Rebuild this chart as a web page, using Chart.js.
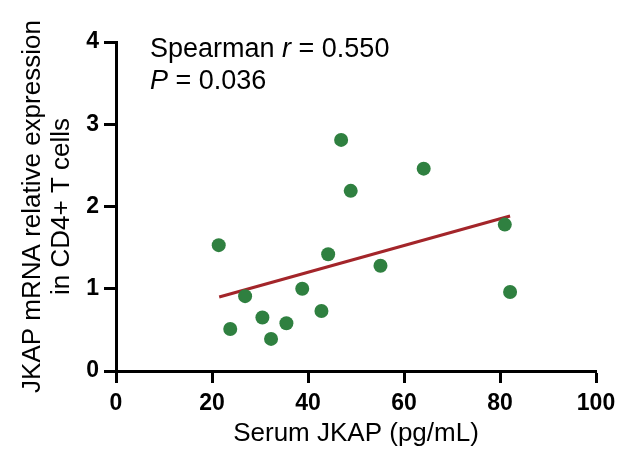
<!DOCTYPE html>
<html>
<head>
<meta charset="utf-8">
<script src="https://cdn.jsdelivr.net/npm/chart.js@4"></script>
<style>
  html, body { margin:0; padding:0; background:#fff; }
  #wrap { width:635px; height:457px; position:relative; }
</style>
</head>
<body>
<div id="wrap"><canvas id="grafica" width="635" height="457"></canvas></div>
<script>
// datos
const serumJKAP = [21.4, 23.8, 26.9, 30.5, 32.3, 35.5, 38.8, 42.8, 44.2, 46.9, 48.9, 55.1, 64.1, 81.0, 82.1];
const mrnaCD4   = [1.53, 0.51, 0.91, 0.65, 0.39, 0.58, 1.00, 0.73, 1.42, 2.81, 2.19, 1.28, 2.46, 1.78, 0.96];
const lineaX = [21.5, 82.1];
const lineaY = [0.90, 1.885];
const ticksX = [0, 20, 40, 60, 80, 100];
const ticksY = [0, 1, 2, 3, 4];

const FUENTE = "Arial, 'Liberation Sans', sans-serif";

const textoStats = {
  id: 'textoStats',
  afterDraw(chart) {
    const ctx = chart.ctx;
    ctx.save();
    ctx.fillStyle = '#000';
    ctx.textBaseline = 'alphabetic';
    let x = 150;
    const partes = [['Spearman ', ''], ['r', 'italic '], [' = 0.550', '']];
    partes.forEach(([t, est]) => {
      ctx.font = est + '27px ' + FUENTE;
      ctx.fillText(t, x, 57);
      x += ctx.measureText(t).width;
    });
    x = 150;
    [['P', 'italic '], [' = 0.036', '']].forEach(([t, est]) => {
      ctx.font = est + '27px ' + FUENTE;
      ctx.fillText(t, x, 89);
      x += ctx.measureText(t).width;
    });
    ctx.restore();
  }
};

new Chart(document.getElementById('grafica'), {
  type: 'scatter',
  data: {
    datasets: [
      {
        label: 'puntos',
        data: serumJKAP.map((v, i) => ({x: v, y: mrnaCD4[i]})),
        backgroundColor: '#2f8040',
        borderColor: '#2f8040',
        pointRadius: 7,
        pointHoverRadius: 7,
        borderWidth: 0,
        order: 1
      },
      {
        type: 'line',
        label: 'ajuste',
        data: lineaX.map((v, i) => ({x: v, y: lineaY[i]})),
        borderColor: '#a3252a',
        borderWidth: 3,
        pointRadius: 0,
        fill: false,
        order: 2
      }
    ]
  },
  options: {
    responsive: false,
    animation: false,
    devicePixelRatio: 1,
    layout: { padding: { left: 0, right: 39, top: 42, bottom: 4 } },
    plugins: { legend: { display: false }, tooltip: { enabled: false } },
    scales: {
      x: {
        type: 'linear', min: 0, max: 100,
        afterBuildTicks: s => { s.ticks = ticksX.map(v => ({value: v})); },
        afterFit: s => { s.height = 82; },
        border: { color: '#000', width: 3 },
        grid: { drawOnChartArea: false, drawTicks: true, tickLength: 12, tickWidth: 3, tickColor: '#000' },
        ticks: { color: '#000', font: { family: FUENTE, size: 23, weight: 'bold' }, padding: 7, maxRotation: 0 },
        title: { display: true, text: 'Serum JKAP (pg/mL)', color: '#000', font: { family: FUENTE, size: 26 }, padding: { top: 2 } }
      },
      y: {
        type: 'linear', min: 0, max: 4,
        afterBuildTicks: s => { s.ticks = ticksY.map(v => ({value: v})); },
        afterFit: s => { s.width = 116; },
        border: { color: '#000', width: 3 },
        grid: { drawOnChartArea: false, drawTicks: true, tickLength: 12, tickWidth: 3, tickColor: '#000' },
        ticks: { color: '#000', font: { family: FUENTE, size: 23, weight: 'bold' }, padding: 5 },
        title: { display: true, text: ['JKAP mRNA relative expression', 'in CD4+ T cells'], color: '#000', font: { family: FUENTE, size: 26, lineHeight: 1.1 }, padding: { top: 19 } }
      }
    }
  },
  plugins: [textoStats]
});
</script>
</body>
</html>
